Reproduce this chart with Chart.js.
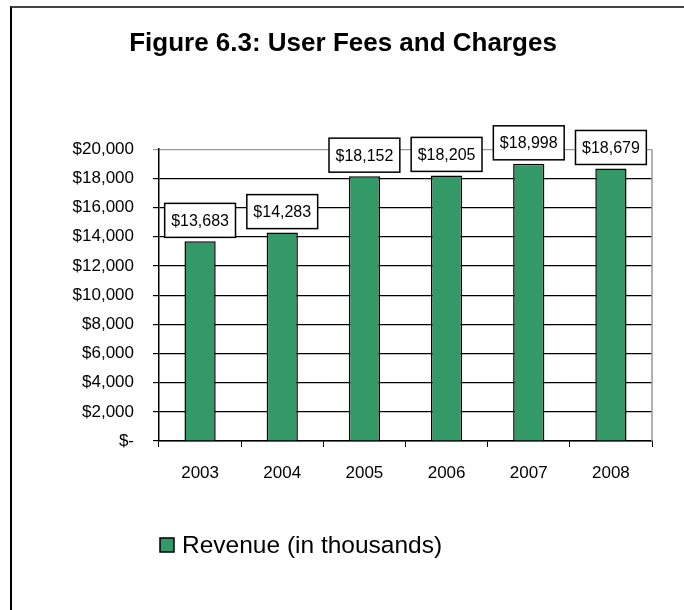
<!DOCTYPE html>
<html>
<head>
<meta charset="utf-8">
<script src="https://cdn.jsdelivr.net/npm/chart.js@4/dist/chart.umd.min.js"></script>
<style>
    html, body { margin: 0; padding: 0; background: #fff; }
    #wrap { position: relative; width: 684px; height: 610px; overflow: hidden; }
    #frame {
        position: absolute; left: 10px; top: 6px; width: 700px; height: 640px;
        border-left: 2px solid #000; border-top: 2px solid #444;
    }
    #chart { position: absolute; left: 0; top: 0; }
</style>
</head>
<body>
<div id="wrap">
    <div id="frame"></div>
    <canvas id="chart" width="684" height="610"></canvas>
</div>
<script>
// Dados do gráfico
const anos = ['2003', '2004', '2005', '2006', '2007', '2008'];
const receita = [13683, 14283, 18152, 18205, 18998, 18679];
const tituloGrafico = 'Figure 6.3: User Fees and Charges';
const rotuloSerie = 'Revenue (in thousands)';
const eixoMin = 0;
const eixoMax = 20000;
const eixoPasso = 2000;

const FONTE = "'Liberation Sans', Arial, sans-serif";
const VERDE = '#339966';

function formatarDolar(v) {
    if (v === 0) return '$-';
    return '$' + v.toLocaleString('en-US');
}

// Rótulos de dados em caixas brancas acima das barras
const rotulosPlugin = {
    id: 'rotulos',
    afterDatasetsDraw(chart) {
        const ctx = chart.ctx;
        const meta = chart.getDatasetMeta(0);
        ctx.save();
        ctx.font = '16px ' + FONTE;
        ctx.textAlign = 'center';
        ctx.textBaseline = 'middle';
        meta.data.forEach((bar, i) => {
            const texto = formatarDolar(chart.data.datasets[0].data[i]);
            const w = ctx.measureText(texto).width + 13;
            const h = 34;
            const x = bar.x - w / 2;
            const y = bar.y - 4 - h;
            ctx.fillStyle = '#fff';
            ctx.fillRect(x, y, w, h);
            ctx.lineWidth = 1.5;
            ctx.strokeStyle = '#000';
            ctx.strokeRect(x, y, w, h);
            ctx.fillStyle = '#000';
            ctx.fillText(texto, bar.x, y + h / 2 + 1);
        });
        ctx.restore();
    }
};

// Borda direita da área do gráfico e legenda
const moldura = {
    id: 'moldura',
    beforeDatasetsDraw(chart) {
        const { ctx, chartArea } = chart;
        ctx.save();
        ctx.strokeStyle = '#999';
        ctx.lineWidth = 1.5;
        ctx.beginPath();
        ctx.moveTo(chartArea.right, chartArea.top);
        ctx.lineTo(chartArea.right, chartArea.bottom);
        ctx.stroke();
        ctx.restore();
    },
    afterDraw(chart) {
        const ctx = chart.ctx;
        const ds = chart.data.datasets[0];
        ctx.save();
        ctx.fillStyle = ds.backgroundColor;
        ctx.fillRect(160, 538, 14, 14);
        ctx.lineWidth = 1.5;
        ctx.strokeStyle = '#000';
        ctx.strokeRect(160, 538, 14, 14);
        ctx.fillStyle = '#000';
        ctx.font = '24.5px ' + FONTE;
        ctx.textBaseline = 'middle';
        ctx.textAlign = 'left';
        ctx.fillText(ds.label, 182, 546);
        ctx.restore();
    }
};

new Chart(document.getElementById('chart'), {
    type: 'bar',
    data: {
        labels: anos,
        datasets: [{
            label: rotuloSerie,
            data: receita,
            backgroundColor: VERDE,
            borderColor: '#000',
            borderWidth: 1.5,
            barPercentage: 0.38,
            categoryPercentage: 1
        }]
    },
    options: {
        responsive: false,
        animation: false,
        layout: { padding: { left: 34, right: 32, top: 0, bottom: 0 } },
        plugins: {
            legend: { display: false },
            tooltip: { enabled: false },
            title: {
                display: true,
                text: tituloGrafico,
                color: '#000',
                font: { family: FONTE, size: 26, weight: 'bold' },
                padding: { top: 28, bottom: 90 }
            }
        },
        scales: {
            x: {
                afterFit(scale) { scale.height = 169; },
                grid: {
                    display: true,
                    drawOnChartArea: false,
                    drawTicks: true,
                    tickLength: 6,
                    offset: true,
                    color: '#000'
                },
                border: { color: '#000', width: 1.5 },
                ticks: {
                    color: '#000',
                    padding: 16,
                    font: { family: FONTE, size: 17 }
                }
            },
            y: {
                min: eixoMin,
                max: eixoMax,
                afterFit(scale) { scale.width = 125; },
                grid: {
                    drawTicks: true,
                    tickLength: 6,
                    color: (c) => c.tick && c.tick.value === eixoMax ? '#999' : '#000',
                    lineWidth: 1.2
                },
                border: { color: '#000', width: 1.5 },
                ticks: {
                    stepSize: eixoPasso,
                    color: '#000',
                    padding: 19,
                    font: { family: FONTE, size: 17 },
                    callback: (v) => formatarDolar(v)
                }
            }
        }
    },
    plugins: [rotulosPlugin, moldura]
});
</script>
</body>
</html>
